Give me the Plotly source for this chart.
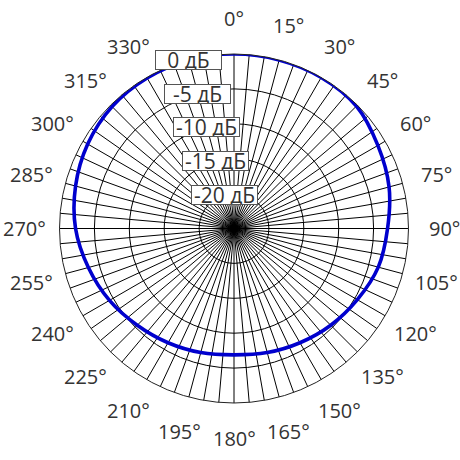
import math
import plotly.graph_objects as go

# Measured pattern (dB) at angles (deg, clockwise from top)
angles = [0, 15, 30, 45, 60, 75, 90, 105, 120, 135, 150, 165, 180,
          195, 210, 225, 240, 255, 270, 285, 300, 315, 330, 345, 360]
levels_db = [0.0, 0.0, 0.0, -0.2, -1.2, -2.0, -3.0, -3.6, -4.6, -5.4, -6.1, -6.6, -6.9,
             -6.6, -6.1, -5.4, -4.4, -3.4, -2.3, -1.5, -0.8, -0.3, -0.1, 0.0, 0.0]

# Radial ticks and their labels
radial_ticks = [0, -5, -10, -15, -20]
radial_labels = ["0 дБ", "-5 дБ", "-10 дБ", "-15 дБ", "-20 дБ"]
radial_min = -25

# Angular grid every 5 deg; labelled angles every 15 deg (345 is hidden behind the boxes)
grid_angles = list(range(0, 360, 5))
label_angles = [0, 15, 30, 45, 60, 75, 90, 105, 120, 135, 150, 165, 180,
                195, 210, 225, 240, 255, 270, 285, 300, 315, 330]
angle_texts = [f"{a}°" for a in label_angles]

box_angle = 345  # direction along which the dB boxes sit

FONT = "Open Sans"
TXT = "#333333"

W = H = 460
M = dict(l=59, r=51, t=54, b=57)
pw = W - M["l"] - M["r"]
ph = H - M["t"] - M["b"]
R = min(pw, ph) / 2.0          # polar radius in px
label_r = 210.0 / R            # label distance as a fraction of polar radius

fig = go.Figure()
fig.add_trace(go.Scatterpolar(
    r=levels_db, theta=angles, mode="lines",
    line=dict(color="#0000CD", width=3.6, shape="spline", smoothing=1.0),
    hoverinfo="skip", showlegend=False,
))

def to_paper(frac, deg):
    th = math.radians(deg)
    return (0.5 + frac * R * math.sin(th) / pw,
            0.5 + frac * R * math.cos(th) / ph)

annotations = []
for a, t in zip(label_angles, angle_texts):
    x, y = to_paper(label_r, a)
    annotations.append(dict(
        x=x, y=y, xref="paper", yref="paper", text=t, showarrow=False,
        font=dict(family=FONT, size=20, color=TXT),
        xanchor="center", yanchor="middle",
    ))

for v, t in zip(radial_ticks, radial_labels):
    frac = (v - radial_min) / (0 - radial_min)
    x, y = to_paper(frac, box_angle)
    annotations.append(dict(
        x=x, y=y, xref="paper", yref="paper", text=t, showarrow=False,
        font=dict(family=FONT, size=21, color=TXT),
        bgcolor="white", bordercolor="#555555", borderwidth=1, borderpad=0,
        width=65, height=18, align="center", valign="middle",
        xanchor="center", yanchor="middle",
    ))

fig.update_layout(
    width=W, height=H,
    margin=M,
    paper_bgcolor="white",
    font=dict(family=FONT, size=20, color=TXT),
    annotations=annotations,
    polar=dict(
        bgcolor="white",
        domain=dict(x=[0, 1], y=[0, 1]),
        angularaxis=dict(
            direction="clockwise", rotation=90,
            tickmode="array", tickvals=grid_angles,
            showticklabels=False, ticks="",
            showgrid=True, gridcolor="#000000", gridwidth=0.9,
            showline=True, linecolor="#222222", linewidth=1,
        ),
        radialaxis=dict(
            range=[radial_min, 0],
            tickmode="array", tickvals=radial_ticks,
            showticklabels=False, ticks="",
            showgrid=True, gridcolor="#000000", gridwidth=0.9,
            showline=False,
        ),
    ),
)

fig.write_html("out.html", config={"displayModeBar": False},
               post_script="document.body.style.margin='0';")
